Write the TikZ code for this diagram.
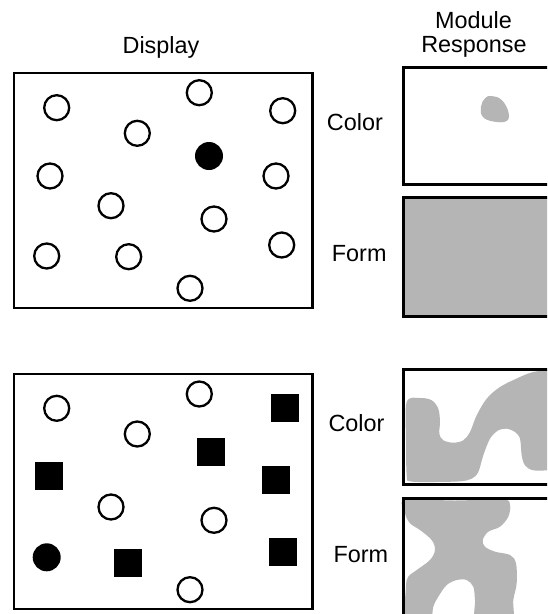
\documentclass[tikz,border=0pt]{standalone}
\usepackage{fontspec}
\setmainfont{Liberation Sans}
\definecolor{respgray}{RGB}{180,181,180}
\begin{document}
\begin{tikzpicture}[x=1pt,y=-1pt,
  opencirc/.style={circle,draw=black,line width=2.3pt,fill=white,minimum size=25pt,inner sep=0pt},
  fullcirc/.style={circle,fill=black,minimum size=28pt,inner sep=0pt},
  fullsq/.style={rectangle,fill=black,minimum size=27.7pt,inner sep=0pt},
  leftbox/.style={draw=black,line width=2.2pt},
  rightbox/.style={draw=black,line width=3pt},
  lbl/.style={inner sep=0pt,font=\fontsize{23.4}{24.4}\selectfont}]
\useasboundingbox (0,0) rectangle (547,614);
\clip (0,0) rectangle (547,614);
\fill[white] (0,0) rectangle (547,614);

% headings
\node[lbl,anchor=base] (hdisp) at (161,53.3) {Display};
\node[lbl,anchor=base] (hmod) at (473.5,28.3) {Module};
\node[lbl,anchor=base] (hresp) at (474,52.7) {Response};

% ---------- top display ----------
\draw[leftbox] (14,73) rectangle (312.5,308.3);
\node[opencirc] (a1) at (56.7,107.7) {};
\node[opencirc] (a2) at (199.3,92.7) {};
\node[opencirc] (a3) at (282.7,110.7) {};
\node[opencirc] (a4) at (137.3,133.3) {};
\node[fullcirc] (a5) at (209,156) {};
\node[opencirc] (a6) at (50,176) {};
\node[opencirc] (a7) at (276,176) {};
\node[opencirc] (a8) at (111,205.7) {};
\node[opencirc] (a9) at (214,219) {};
\node[opencirc] (a10) at (46.7,256) {};
\node[opencirc] (a11) at (128.7,256.7) {};
\node[opencirc] (a12) at (281.7,245) {};
\node[opencirc] (a13) at (190,288.3) {};

% ---------- bottom display ----------
\draw[leftbox] (14,374) rectangle (312.5,609.3);
\node[opencirc] (b1) at (56.7,408.3) {};
\node[opencirc] (b2) at (199.3,394) {};
\node[fullsq] (b3) at (285,408.3) {};
\node[opencirc] (b4) at (137.3,434) {};
\node[fullsq] (b5) at (211.3,452.3) {};
\node[fullsq] (b6) at (49,476) {};
\node[fullsq] (b7) at (276,479.7) {};
\node[opencirc] (b8) at (111,507) {};
\node[opencirc] (b9) at (214,520.3) {};
\node[fullcirc] (b10) at (46.7,557.3) {};
\node[fullsq] (b11) at (128.3,563) {};
\node[fullsq] (b12) at (283.3,552.3) {};
\node[opencirc] (b13) at (190,589.7) {};

% ---------- labels ----------
\node[lbl,anchor=base west] (c1) at (326.7,130.7) {Color};
\node[lbl,anchor=base west] (f1) at (331.7,261) {Form};
\node[lbl,anchor=base west] (c2) at (328.3,431.7) {Color};
\node[lbl,anchor=base west] (f2) at (333.3,562.7) {Form};

% ---------- responses, top ----------
\fill[respgray] plot[smooth cycle,tension=0.7] coordinates {
  (491.7,96) (501.7,100) (508.3,111.7) (506.7,121) (493.3,121.5)
  (482.7,116.7) (481,106.7) (485,98.3)};
\draw[rightbox] (403,67) rectangle (560,184.7);
\draw[rightbox,fill=respgray] (403,197.3) rectangle (560,316);

% ---------- responses, bottom ----------
\fill[respgray] plot[smooth cycle,tension=0.55] coordinates {
  (406.7,402) (420,398) (431.7,400.3) (438.3,408.7) (440,422) (439.3,433.7)
  (443.3,440.3) (453.3,442.7) (463.3,440.3) (470,432) (476.7,415.3)
  (486.7,398.7) (500,387) (520,377) (533.3,372) (550,370) (565,370)
  (565,470.3) (550,470.3) (533.3,470.3) (525,465.3) (521.7,455.3) (520,438.7)
  (515,432) (506.7,428.7) (498.3,430.3) (490,438.7) (483.3,455.3) (478.3,472)
  (471.7,478.7) (460,481.3) (433.3,482) (410,481.3) (406.7,475.3) (406,440)};
\draw[rightbox] (403,369) rectangle (560,484);

\fill[respgray] plot[smooth cycle,tension=0.55] coordinates {
  (405,500) (455,500.5) (503,499.5) (510,505) (508.3,516.7) (500,526.7)
  (488.3,531.7) (482.7,540) (485,546.7) (495,551.7) (510,555) (516,563.3)
  (516.7,583.3) (513.3,600) (511,625) (477,625) (475,600) (473.3,586.7)
  (466.7,580) (456.7,580) (446.7,585) (438.3,596.7) (433.3,606.7) (429,625)
  (406,625) (406,586.7) (408.3,576.7) (416.7,570) (430,560) (435,550)
  (431.7,540) (420,530) (410,523.3) (405,513.3)};
\draw[rightbox] (403,498.3) rectangle (560,640);
\end{tikzpicture}
\end{document}
